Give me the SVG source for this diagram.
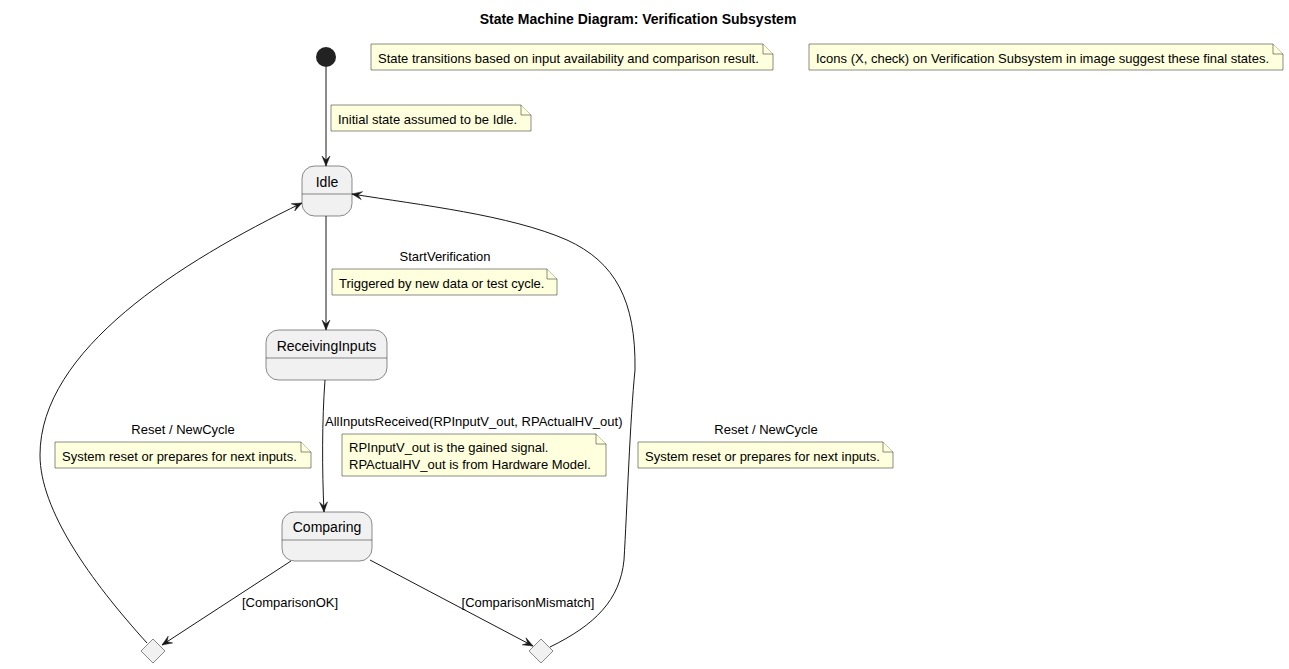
<svg xmlns="http://www.w3.org/2000/svg" width="1289" height="669" viewBox="0 0 1289 669">
<style>
text{font-family:"Liberation Sans",Arial,sans-serif;fill:#000}
.title{font-size:14px;font-weight:bold}
.st{fill:#F1F1F1;stroke:#181818;stroke-width:0.5}
.sn{font-size:14px}
.nt{fill:#FEFFDD;stroke:#181818;stroke-width:0.5}
.ntx{font-size:13px}
.lbl{font-size:13px}
.edge{fill:none;stroke:#181818;stroke-width:1}
.dia{fill:#F1F1F1;stroke:#181818;stroke-width:0.5}
</style>
<defs>
<marker id="arr" viewBox="-11 -5 12 10" refX="0" refY="0" markerWidth="12" markerHeight="10" markerUnits="userSpaceOnUse" orient="auto">
<path d="M0,0 L-10,-4 L-6,0 L-10,4 Z" fill="#181818" stroke="#181818" stroke-width="0.5"/>
</marker>
</defs>
<rect width="1289" height="669" fill="#FFFFFF"/>
<text class="title" x="638" y="24" text-anchor="middle">State Machine Diagram: Verification Subsystem</text>

<g id="connectors">
<path class="edge" d="M326,67 L326,166" marker-end="url(#arr)"/>
<path class="edge" d="M326,216 L326,330" marker-end="url(#arr)"/>
<path class="edge" d="M325,380 C322,420 322,470 324,512" marker-end="url(#arr)"/>
<path class="edge" d="M291,561 L162,645" marker-end="url(#arr)"/>
<path class="edge" d="M370,560 L533,646" marker-end="url(#arr)"/>
<path class="edge" d="M147,643 C90,580 40,510 40,455 C40,350 180,262 302,203" marker-end="url(#arr)"/>
<path class="edge" d="M550,647 C595,625 620,600 624,560 C627,510 630,420 635,370 C636,300 615,262 567,240 C510,215 420,205 352,194" marker-end="url(#arr)"/>
<text class="lbl" x="445" y="261" text-anchor="middle">StartVerification</text>
<text class="lbl" x="325" y="426">AllInputsReceived(RPInputV_out, RPActualHV_out)</text>
<text class="lbl" x="290" y="607" text-anchor="middle">[ComparisonOK]</text>
<text class="lbl" x="528" y="607" text-anchor="middle">[ComparisonMismatch]</text>
<text class="lbl" x="183" y="434" text-anchor="middle">Reset / NewCycle</text>
<text class="lbl" x="766" y="434" text-anchor="middle">Reset / NewCycle</text>
</g>

<g id="start">
<circle cx="326" cy="57" r="10" fill="#222222"/>
</g>

<g id="Idle">
<rect class="st" x="302" y="166" width="50" height="50" rx="12.5"/>
<line x1="302" y1="194" x2="352" y2="194" stroke="#181818" stroke-width="0.5"/>
<text class="sn" x="327" y="187" text-anchor="middle">Idle</text>
</g>

<g id="ReceivingInputs">
<rect class="st" x="266" y="330" width="121" height="50" rx="12.5"/>
<line x1="266" y1="358" x2="387" y2="358" stroke="#181818" stroke-width="0.5"/>
<text class="sn" x="326.5" y="351" text-anchor="middle">ReceivingInputs</text>
</g>

<g id="Comparing">
<rect class="st" x="282" y="512" width="90" height="49" rx="12.5"/>
<line x1="282" y1="540" x2="372" y2="540" stroke="#181818" stroke-width="0.5"/>
<text class="sn" x="327" y="532" text-anchor="middle">Comparing</text>
</g>

<g id="choiceOK">
<polygon class="dia" points="153,639 165,651 153,663 141,651"/>
</g>

<g id="choiceMismatch">
<polygon class="dia" points="541,639 553,651 541,663 529,651"/>
</g>

<g id="note1">
<polygon class="nt" points="371,44 763,44 773,54 773,70 371,70"/>
<polyline class="nt" points="763,44 763,54 773,54"/>
<text class="ntx" x="378" y="63">State transitions based on input availability and comparison result.</text>
</g>

<g id="note2">
<polygon class="nt" points="809,44 1273,44 1283,54 1283,70 809,70"/>
<polyline class="nt" points="1273,44 1273,54 1283,54"/>
<text class="ntx" x="816" y="63">Icons (X, check) on Verification Subsystem in image suggest these final states.</text>
</g>

<g id="noteInitial">
<polygon class="nt" points="331,105 521,105 531,115 531,131 331,131"/>
<polyline class="nt" points="521,105 521,115 531,115"/>
<text class="ntx" x="338" y="124">Initial state assumed to be Idle.</text>
</g>

<g id="noteTriggered">
<polygon class="nt" points="332,269 547,269 557,279 557,295 332,295"/>
<polyline class="nt" points="547,269 547,279 557,279"/>
<text class="ntx" x="339" y="288">Triggered by new data or test cycle.</text>
</g>

<g id="noteInputs">
<polygon class="nt" points="342,434 596,434 606,444 606,476 342,476"/>
<polyline class="nt" points="596,434 596,444 606,444"/>
<text class="ntx" x="349" y="452">RPInputV_out is the gained signal.</text>
<text class="ntx" x="349" y="469">RPActualHV_out is from Hardware Model.</text>
</g>

<g id="noteResetLeft">
<polygon class="nt" points="55,442 301,442 311,452 311,468 55,468"/>
<polyline class="nt" points="301,442 301,452 311,452"/>
<text class="ntx" x="62" y="461">System reset or prepares for next inputs.</text>
</g>

<g id="noteResetRight">
<polygon class="nt" points="638,442 883,442 893,452 893,468 638,468"/>
<polyline class="nt" points="883,442 883,452 893,452"/>
<text class="ntx" x="645" y="461">System reset or prepares for next inputs.</text>
</g>
</svg>
